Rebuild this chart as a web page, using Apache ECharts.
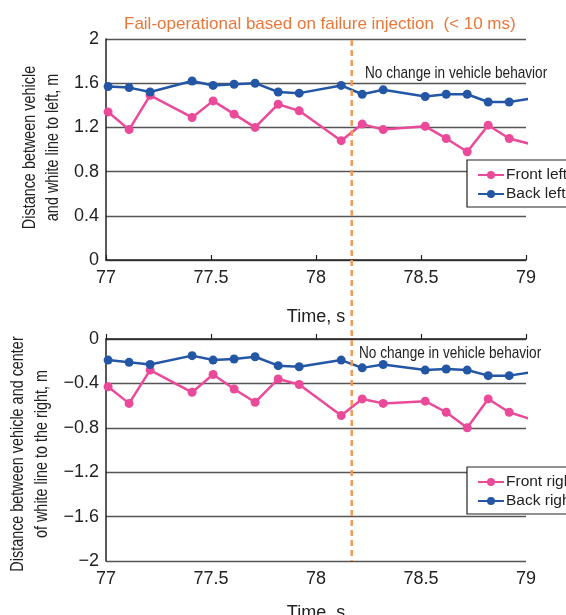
<!DOCTYPE html>
<html>
  <head>
    <meta charset="utf-8">
    <title>Fail-operational</title>
    <style type="text/css">
    html,body{margin:0;padding:0;background:#fff;}
    #main{width:566px;height:615px;}
    </style>
    <script src="https://cdn.jsdelivr.net/npm/echarts@6/dist/echarts.min.js"></script>
  </head>
  <body>
    <div id="main"></div>
    <script type="text/javascript">
      // sample times (s), shared by all four series
      var times = [77.01, 77.11, 77.21, 77.41, 77.51, 77.61, 77.71, 77.82, 77.92, 78.12,
                   78.22, 78.32, 78.52, 78.62, 78.72, 78.82, 78.92, 79.02];
      var frontLeft  = [1.34, 1.18, 1.49, 1.29, 1.44, 1.32, 1.20, 1.41, 1.35, 1.08,
                        1.23, 1.18, 1.21, 1.10, 0.98, 1.22, 1.10, 1.05];
      var backLeft   = [1.57, 1.56, 1.52, 1.62, 1.58, 1.59, 1.60, 1.52, 1.51, 1.58,
                        1.50, 1.54, 1.48, 1.50, 1.50, 1.43, 1.43, 1.46];
      var frontRight = [-0.43, -0.58, -0.28, -0.48, -0.32, -0.45, -0.57, -0.36, -0.41, -0.69,
                        -0.54, -0.58, -0.56, -0.66, -0.80, -0.54, -0.66, -0.72];
      var backRight  = [-0.19, -0.21, -0.23, -0.15, -0.19, -0.18, -0.16, -0.24, -0.25, -0.19,
                        -0.26, -0.23, -0.28, -0.27, -0.28, -0.33, -0.33, -0.30];
      var xTicks = ['77', '77.5', '78', '78.5', '79'];
      var yTicksTop = ['0', '0.4', '0.8', '1.2', '1.6', '2'];
      var yTicksBottom = ['\u22122', '\u22121.6', '\u22121.2', '\u22120.8', '\u22120.4', '0'];
      var failureTime = 78.17;

      var PINK = '#EA4A99', BLUE = '#2456A6', ORANGE = '#F39A55';
      var REG = "'Liberation Sans', Arial, sans-serif";
      var SQUEEZE = 0.8;   // original uses a condensed face for the wordy labels

      function pairs(vals) {
        return vals.map(function (v, i) { return [times[i], v]; });
      }

      function xAxisCfg(gi, gap) {
        return {
          type: 'value', gridIndex: gi, min: 77, max: 79, interval: 0.5,
          name: 'Time, s', nameLocation: 'middle', nameGap: gap,
          nameTextStyle: {fontFamily: REG, fontSize: 18, color: '#222'},
          axisLine: {lineStyle: {color: '#222', width: 1.5}},
          axisTick: {inside: true, length: 5, lineStyle: {color: '#222', width: 1.2}},
          axisLabel: {fontFamily: REG, fontSize: 18, color: '#222', margin: 9,
                      formatter: function (v) { return xTicks[Math.round((v - 77) / 0.5)]; }},
          splitLine: {show: false}
        };
      }
      function yAxisCfg(gi, min, max, labels) {
        return {
          type: 'value', gridIndex: gi, min: min, max: max, interval: 0.4,
          axisLine: {show: true, lineStyle: {color: '#222', width: 1.5}},
          axisTick: {show: false},
          axisLabel: {fontFamily: REG, fontSize: 18, color: '#222', margin: 7,
                      formatter: function (v) { return labels[Math.round((v - min) / 0.4)]; }},
          splitLine: {show: true, lineStyle: {color: '#555', width: 1.3}}
        };
      }
      function lineSeries(name, data, color, xi) {
        return {
          name: name, type: 'line', xAxisIndex: xi, yAxisIndex: xi,
          data: pairs(data), symbol: 'circle', symbolSize: 9,
          itemStyle: {color: color}, lineStyle: {color: color, width: 2.5},
          clip: true, z: 3
        };
      }
      function legendCfg(top, names) {
        return {
          orient: 'vertical', left: 467, top: top, data: names,
          backgroundColor: '#fff', borderColor: '#222', borderWidth: 1.2, borderRadius: 0,
          padding: [7, 40, 5, 10], itemGap: 3, itemWidth: 26, itemHeight: 10,
          textStyle: {fontFamily: REG, fontSize: 15.5, color: '#222', padding: [0, 0, 0, -3]},
          selectedMode: false, z: 10
        };
      }
      function label(text, x, y, size, rot, align) {
        return {type: 'text', x: x, y: y, rotation: rot, scaleX: SQUEEZE, z: 6, silent: true,
                style: {text: text, font: size + 'px ' + REG, fill: '#222',
                        align: align, verticalAlign: 'middle'}};
      }

      var chart = echarts.init(document.getElementById('main'), null, {renderer: 'canvas'});
      chart.setOption({
        animation: false,
        backgroundColor: '#fff',
        title: {
          text: 'Fail-operational based on failure injection  (< 10 ms)',
          left: 119, top: 11,
          textStyle: {fontFamily: REG, fontSize: 17, fontWeight: 'normal', color: '#E8773A'}
        },
        grid: [
          {left: 106, top: 39, width: 420, height: 221, outerBoundsMode: 'none'},
          {left: 106, top: 339, width: 420, height: 222, outerBoundsMode: 'none'}
        ],
        xAxis: [xAxisCfg(0, 48), xAxisCfg(1, 43)],
        yAxis: [yAxisCfg(0, 0, 2, yTicksTop), yAxisCfg(1, -2, 0, yTicksBottom)],
        legend: [
          legendCfg(160, ['Front left', 'Back left']),
          legendCfg(467, ['Front right', 'Back right'])
        ],
        series: [
          lineSeries('Front left', frontLeft, PINK, 0),
          lineSeries('Back left', backLeft, BLUE, 0),
          lineSeries('Front right', frontRight, PINK, 1),
          lineSeries('Back right', backRight, BLUE, 1)
        ]
      });

      // failure-injection marker spans both panels; ends taken from the axes
      var xPix = chart.convertToPixel({xAxisIndex: 0}, failureTime);
      var yTop = chart.convertToPixel({yAxisIndex: 0}, 2) + 1;
      var yBot = chart.convertToPixel({yAxisIndex: 1}, -2);
      var midTop = chart.convertToPixel({yAxisIndex: 0}, 1);
      var midBot = chart.convertToPixel({yAxisIndex: 1}, -1);
      var R = Math.PI / 2;
      chart.setOption({
        graphic: [
          {type: 'line', z: 5, silent: true,
           shape: {x1: xPix, y1: yTop, x2: xPix, y2: yBot},
           style: {stroke: ORANGE, lineWidth: 2.5, lineDash: [6, 4]}},
          label('No change in vehicle behavior', 365, 73, 17, 0, 'left'),
          label('No change in vehicle behavior', 359, 353, 17, 0, 'left'),
          label('Distance between vehicle', 30, midTop - 2, 18, R, 'center'),
          label('and white line to left, m', 53, midTop - 2, 18, R, 'center'),
          label('Distance between vehicle and center', 18, midBot + 4, 18, R, 'center'),
          label('of white line to the right, m', 42, midBot + 4, 18, R, 'center')
        ]
      });
    </script>
  </body>
</html>
